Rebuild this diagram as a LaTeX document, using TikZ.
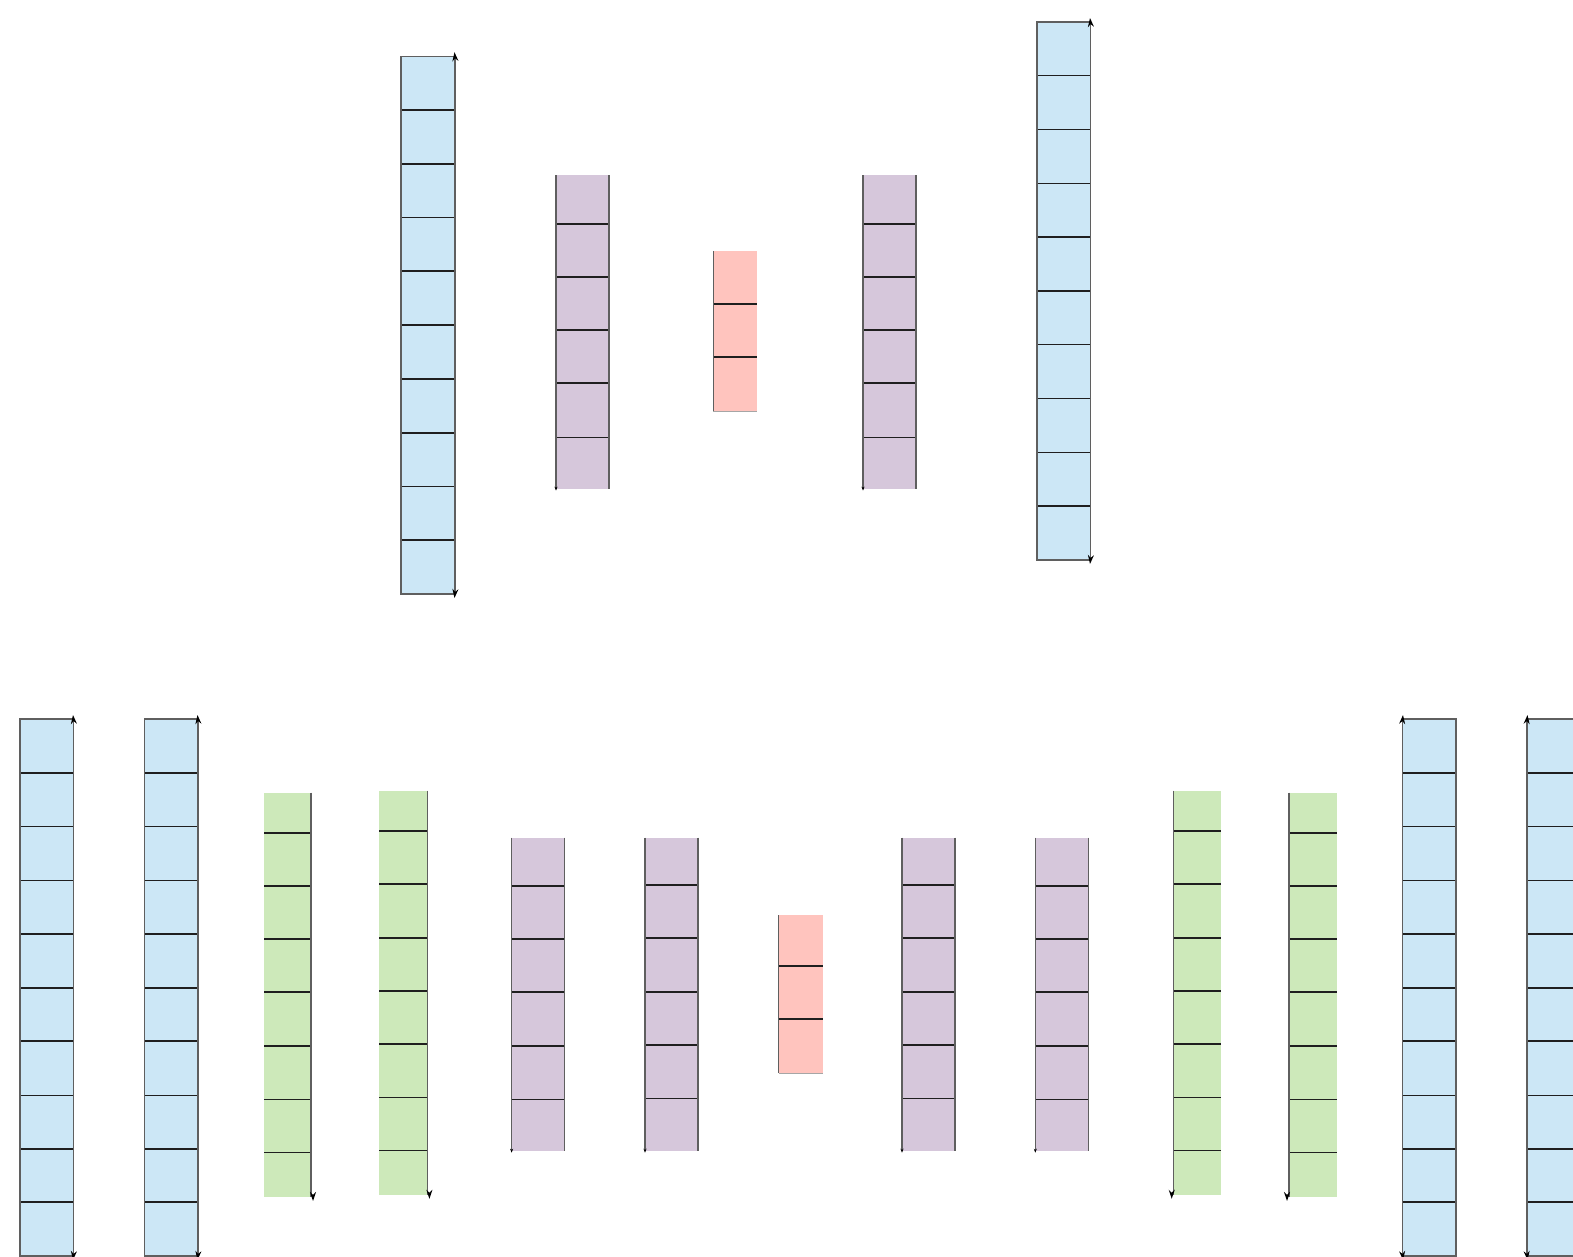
\documentclass[tikz,border=0pt]{standalone}
\usetikzlibrary{arrows.meta}
\definecolor{cblue}{RGB}{204,231,246}
\definecolor{cpurp}{RGB}{214,199,219}
\definecolor{cpink}{RGB}{255,196,190}
\definecolor{cgreen}{RGB}{205,233,186}
\definecolor{cbord}{RGB}{95,95,95}
\tikzset{
  divider/.style={line width=1.7pt, black!88},
  border/.style={line width=1.3pt, cbord},
  lightborder/.style={line width=1pt, black!35},
  tipmark/.style={-{Stealth[length=9pt,width=6pt]}, line width=1.2pt, black},
  smallmark/.style={-{Stealth[length=4pt,width=3pt]}, line width=0.8pt, black},
}
% #1 name, #2 x left, #3 x right, #4 y top, #5 y bottom, #6 fill, #7 divider list
\newcommand\cstack[7]{%
  \coordinate (#1-nw) at (#2,#4);
  \coordinate (#1-ne) at (#3,#4);
  \coordinate (#1-sw) at (#2,#5);
  \coordinate (#1-se) at (#3,#5);
  \fill[#6] (#1-nw) rectangle (#1-se);
  \foreach \yy in {#7} \draw[divider] (#2,\yy) -- (#3,\yy);
}
\begin{document}
\begin{tikzpicture}[x=1pt,y=-1pt]
\useasboundingbox (0,0) rectangle (1573,1257);
\clip (0,0) rectangle (1573,1257);

% ---------- top row ----------
\cstack{A}{401}{455}{56.2}{594}{cblue}{110.0,163.8,217.5,271.3,325.1,378.9,432.7,486.4,540.2}
\draw[border] (A-nw) rectangle (A-se);
\cstack{B}{556}{609}{175.5}{488.6}{cpurp}{223.7,276.9,330,383.2,437.4}
\draw[border] (B-nw) -- (B-sw) (B-ne) -- (B-se);
\cstack{C}{713}{757}{250.8}{411.3}{cpink}{304,357.1}
\draw[border, line width=0.8pt] (C-nw) -- (C-sw);
\draw[lightborder] (C-sw) -- (C-se);
\cstack{D}{863}{916}{175.5}{488.6}{cpurp}{223.7,276.9,330,383.2,437.4}
\draw[border] (D-nw) -- (D-sw) (D-ne) -- (D-se);
\cstack{E}{1037}{1090.5}{22}{560}{cblue}{75.5,129.4,183.5,237,291,344.5,398.4,452.4,505.9}
\draw[border] (E-nw) rectangle (E-se);

% ---------- bottom row ----------
\cstack{F}{20}{73.5}{719}{1256}{cblue}{773.2,826.6,880.6,934,988.1,1041.3,1095.4,1148.7,1202}
\draw[border] (F-nw) rectangle (F-se);
\cstack{G}{144.5}{198}{719}{1256}{cblue}{773.2,826.6,880.6,934,988.1,1041.3,1095.4,1148.7,1202}
\draw[border] (G-nw) rectangle (G-se);
\cstack{H}{264}{311}{792.5}{1197}{cgreen}{832.7,885.8,939,992.2,1046.3,1099.5,1152.6}
\draw[border] (H-ne) -- (H-se);
\cstack{I}{379.2}{427.4}{790.5}{1194.8}{cgreen}{830.7,883.8,938,991.2,1044.3,1097.5,1150.6}
\draw[border] (I-ne) -- (I-se);
\cstack{J}{511.6}{564.8}{837.7}{1150.7}{cpurp}{885.8,939,992.2,1046.3,1099.5}
\draw[border] (J-nw) -- (J-sw) (J-ne) -- (J-se);
\cstack{K}{645}{698}{837.7}{1150.7}{cpurp}{884.8,938,992.2,1045.3,1098.5}
\draw[border] (K-nw) -- (K-sw) (K-ne) -- (K-se);
\cstack{L}{778.5}{822.6}{915}{1073.4}{cpink}{966,1019.3}
\draw[border, line width=0.8pt] (L-nw) -- (L-sw);
\draw[lightborder] (L-sw) -- (L-se);
\cstack{M}{902}{955}{837.7}{1150.7}{cpurp}{884.8,938,992.2,1045.3,1098.5}
\draw[border] (M-nw) -- (M-sw) (M-ne) -- (M-se);
\cstack{N}{1035.3}{1088.5}{837.7}{1150.7}{cpurp}{885.8,939,992.2,1046.3,1099.5}
\draw[border] (N-nw) -- (N-sw) (N-ne) -- (N-se);
\cstack{O}{1173.7}{1221}{790.5}{1194.8}{cgreen}{830.7,883.8,938,991.2,1044.3,1097.5,1150.6}
\draw[border] (O-nw) -- (O-sw);
\cstack{P}{1289}{1337.3}{792.5}{1197}{cgreen}{832.7,885.8,939,992.2,1046.3,1099.5,1152.6}
\draw[border] (P-nw) -- (P-sw);
\cstack{Q}{1402.5}{1456}{719}{1256}{cblue}{773.2,826.6,880.6,934,988.1,1041.3,1095.4,1148.7,1202}
\draw[border] (Q-nw) rectangle (Q-se);
\cstack{R}{1527}{1580}{719}{1256}{cblue}{773.2,826.6,880.6,934,988.1,1041.3,1095.4,1148.7,1202}
\draw[border] (R-nw) rectangle (R-se);

% ---------- small arrow tips at the corners ----------
\foreach \n in {A,E,F,G} {
  \draw[tipmark] ([yshift=-1pt]\n-ne) -- ([yshift=4pt,xshift=-0.5pt]\n-ne);
  \draw[tipmark] ([yshift=1pt]\n-se) -- ([yshift=-4pt,xshift=-0.5pt]\n-se);
}
\foreach \n in {Q,R} {
  \draw[tipmark] ([yshift=-1pt]\n-nw) -- ([yshift=4pt,xshift=0.5pt]\n-nw);
  \draw[tipmark] ([yshift=1pt]\n-sw) -- ([yshift=-4pt,xshift=0.5pt]\n-sw);
}
\foreach \n in {H,I} \draw[tipmark] ([yshift=0pt,xshift=2pt]\n-se) -- ([yshift=-4pt,xshift=2pt]\n-se);
\foreach \n in {O,P} \draw[tipmark] ([yshift=0pt,xshift=-2pt]\n-sw) -- ([yshift=-4pt,xshift=-2pt]\n-sw);
\foreach \n in {B,D,J,K,M,N} \draw[smallmark] ([yshift=1pt]\n-sw) -- ([yshift=-2pt]\n-sw);
\end{tikzpicture}
\end{document}
